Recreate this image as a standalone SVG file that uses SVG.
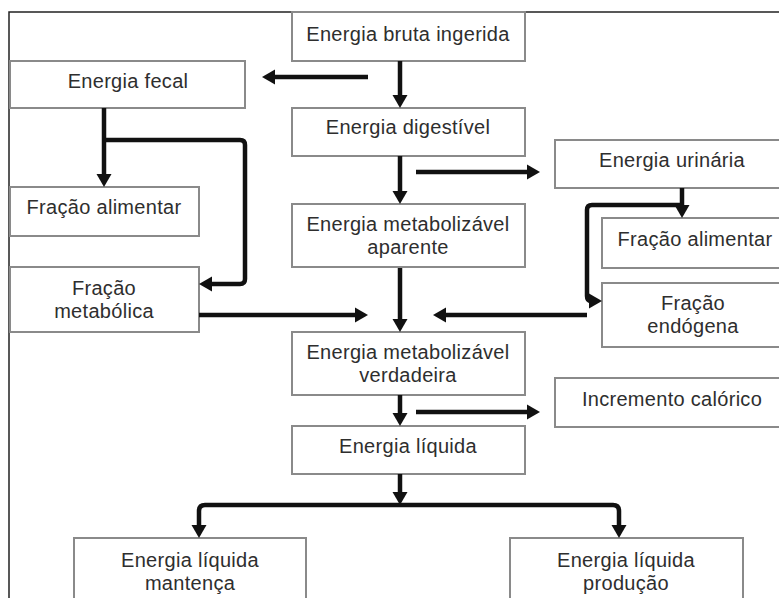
<svg xmlns="http://www.w3.org/2000/svg" width="779" height="598" viewBox="0 0 779 598">
<style>
.box{fill:#fff;stroke:#8a8a8a;stroke-width:2}
.t{font-family:"Liberation Sans",Arial,sans-serif;font-size:20px;letter-spacing:0.3px;fill:#2e2e2e;text-anchor:middle}
.c{fill:none;stroke:#111;stroke-width:4.5}
.frame{fill:none;stroke:#222;stroke-width:1.5}
</style>
<defs>
<marker id="ah" markerUnits="userSpaceOnUse" markerWidth="15" markerHeight="16" refX="2" refY="8" orient="auto">
<path d="M0,0.5 L13,8 L0,15.5 z" fill="#111"/>
</marker>
</defs>
<rect width="779" height="598" fill="#fff"/>
<path class="frame" d="M9,598 V12 H779"/>

<g id="bruta"><rect class="box" x="292" y="12" width="233" height="49"/><text class="t" x="408" y="41">Energia bruta ingerida</text></g>
<g id="fecal"><rect class="box" x="10" y="61" width="235" height="47"/><text class="t" x="128" y="88">Energia fecal</text></g>
<g id="digestivel"><rect class="box" x="292" y="108" width="233" height="48"/><text class="t" x="408" y="134">Energia digestível</text></g>
<g id="urinaria"><rect class="box" x="555" y="140" width="235" height="48"/><text class="t" x="672" y="167">Energia urinária</text></g>
<g id="fracao-alimentar-fecal"><rect class="box" x="10" y="187" width="189" height="49"/><text class="t" x="104" y="214">Fração alimentar</text></g>
<g id="ema"><rect class="box" x="292" y="204" width="233" height="63"/><text class="t" x="408" y="231">Energia metabolizável</text><text class="t" x="408" y="254">aparente</text></g>
<g id="fracao-alimentar-urinaria"><rect class="box" x="602" y="218" width="186" height="50"/><text class="t" x="695" y="246">Fração alimentar</text></g>
<g id="fracao-metabolica"><rect class="box" x="10" y="267" width="189" height="65"/><text class="t" x="104" y="295">Fração</text><text class="t" x="104" y="318">metabólica</text></g>
<g id="fracao-endogena"><rect class="box" x="602" y="283" width="186" height="64"/><text class="t" x="693" y="310">Fração</text><text class="t" x="693" y="333">endógena</text></g>
<g id="emv"><rect class="box" x="292" y="332" width="233" height="63"/><text class="t" x="408" y="359">Energia metabolizável</text><text class="t" x="408" y="382">verdadeira</text></g>
<g id="incremento"><rect class="box" x="555" y="378" width="235" height="49"/><text class="t" x="672" y="406">Incremento calórico</text></g>
<g id="liquida"><rect class="box" x="292" y="426" width="233" height="48"/><text class="t" x="408" y="453">Energia líquida</text></g>
<g id="mantenca"><rect class="box" x="74" y="538" width="232" height="72"/><text class="t" x="190" y="567">Energia líquida</text><text class="t" x="190" y="590">mantença</text></g>
<g id="producao"><rect class="box" x="510" y="538" width="233" height="72"/><text class="t" x="626" y="567">Energia líquida</text><text class="t" x="626" y="590">produção</text></g>

<g id="connectors">
<path class="c" marker-end="url(#ah)" d="M400,61 V97"/>
<path class="c" marker-end="url(#ah)" d="M368,77 H273"/>
<path class="c" marker-end="url(#ah)" d="M400,156 V193"/>
<path class="c" marker-end="url(#ah)" d="M416,172 H529"/>
<path class="c" marker-end="url(#ah)" d="M400,268 V321"/>
<path class="c" marker-end="url(#ah)" d="M199,315 H357"/>
<path class="c" marker-end="url(#ah)" d="M587,315 H444"/>
<path class="c" marker-end="url(#ah)" d="M400,395 V415"/>
<path class="c" marker-end="url(#ah)" d="M416,412 H529"/>
<path class="c" marker-end="url(#ah)" d="M400,474 V494"/>
<path class="c" marker-end="url(#ah)" d="M400,505 H205 Q199,505 199,511 V527"/>
<path class="c" marker-end="url(#ah)" d="M400,505 H613 Q619,505 619,511 V527"/>
<path class="c" marker-end="url(#ah)" d="M104,108 V176"/>
<path class="c" marker-end="url(#ah)" d="M104,140 H240 Q245,140 245,145 V279 Q245,284 240,284 H210"/>
<path class="c" marker-end="url(#ah)" d="M682,188 V207"/>
<path class="c" marker-end="url(#ah)" d="M682,205 H592 Q587,205 587,210 V296 Q587,301 591,301"/>
</g>
</svg>
